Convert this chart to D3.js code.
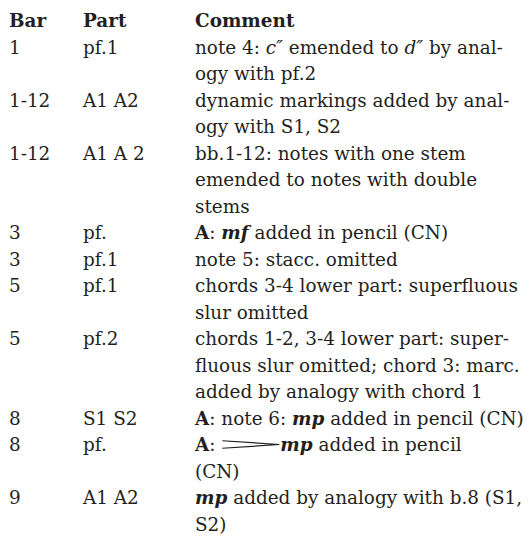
<!DOCTYPE html>
<html>
<head>
<meta charset="utf-8">
<script src="https://cdn.jsdelivr.net/npm/d3@7"></script>
<style>
  html, body { margin: 0; padding: 0; background: #fff; }
  svg { display: block; }
  text { white-space: pre; }
</style>
</head>
<body>
<div id="chart"></div>
<script>
// ---- data ----
const headers = ["Bar", "Part", "Comment"];
const bars = ["1", "1-12", "1-12", "3", "3", "5", "5", "8", "8", "9"];
const parts = ["pf.1", "A1 A2", "A1 A 2", "pf.", "pf.1", "pf.1", "pf.2", "S1 S2", "pf.", "A1 A2"];
const comments = [
  ["note 4: _c″_ emended to _d″_ by anal-", "ogy with pf.2"],
  ["dynamic markings added by anal-", "ogy with S1, S2"],
  ["bb.1-12: notes with one stem", "emended to notes with double", "stems"],
  ["**A**: ^mf^ added in pencil (CN)"],
  ["note 5: stacc. omitted"],
  ["chords 3-4 lower part: superfluous", "slur omitted"],
  ["chords 1-2, 3-4 lower part: super-", "fluous slur omitted; chord 3: marc.", "added by analogy with chord 1"],
  ["**A**: note 6: ^mp^ added in pencil (CN)"],
  ["**A**: ~^mp^ added in pencil", "(CN)"],
  ["^mp^ added by analogy with b.8 (S1,", "S2)"]
];

// ---- layout ----
const W = 531, H = 536;
const colX = [9, 83, 195];
const fontFamily = "DejaVu Serif";
const fontSize = 18.4;
const textColor = "#231f20";

const svg = d3.select("#chart").append("svg").attr("width", W).attr("height", H);

let idx = 1;
const rows = bars.map((b, i) => {
  const r = { bar: b, part: parts[i], lines: comments[i], start: idx };
  idx += comments[i].length;
  return r;
});
const totalLines = idx;
const y = d3.scaleLinear().domain([0, totalLines - 1]).range([27, 27 + 26.5 * (totalLines - 1)]);

const g = svg.append("g")
  .style("font-family", fontFamily)
  .style("font-size", fontSize + "px")
  .attr("fill", textColor);

g.selectAll("text.hdr").data(headers).join("text")
  .attr("class", "hdr")
  .attr("x", (d, i) => colX[i])
  .attr("y", y(0))
  .style("font-weight", "bold")
  .text(d => d);

g.selectAll("text.bar").data(rows).join("text")
  .attr("class", "bar").attr("x", colX[0]).attr("y", d => y(d.start)).text(d => d.bar);
g.selectAll("text.part").data(rows).join("text")
  .attr("class", "part").attr("x", colX[1]).attr("y", d => y(d.start)).text(d => d.part);

const lineData = [];
rows.forEach(r => r.lines.forEach((l, k) => lineData.push({ text: l, li: r.start + k })));

const tokenRe = /(\*\*[^*]+\*\*|_[^_]+_|\^[^^]+\^|~)/;
const hairW = 57, hairH = 7.5;

g.selectAll("text.cmt").data(lineData).join("text")
  .attr("class", "cmt")
  .attr("x", colX[2])
  .attr("y", d => y(d.li))
  .each(function(d) {
    const t = d3.select(this);
    const segs = d.text.split(tokenRe).filter(s => s.length);
    let pendingDx = 0;
    segs.forEach(p => {
      if (p === "~") {
        const len = this.getComputedTextLength();
        const x0 = colX[2] + len + 1;
        const yc = y(d.li) - 6.5;
        g.append("path")
          .attr("d", `M${x0},${yc - hairH / 2}L${x0 + hairW},${yc}L${x0},${yc + hairH / 2}`)
          .attr("fill", "none")
          .attr("stroke", textColor)
          .attr("stroke-width", 1.2);
        pendingDx = hairW + 2;
        return;
      }
      const ts = t.append("tspan");
      if (pendingDx) { ts.attr("dx", pendingDx); pendingDx = 0; }
      if (p.startsWith("**")) {
        ts.style("font-weight", "bold").text(p.slice(2, -2));
      } else if (p.startsWith("_")) {
        ts.style("font-style", "italic").text(p.slice(1, -1));
      } else if (p.startsWith("^")) {
        ts.style("font-style", "italic").style("font-weight", "bold").text(p.slice(1, -1));
      } else {
        ts.text(p);
      }
    });
  });
</script>
</body>
</html>
